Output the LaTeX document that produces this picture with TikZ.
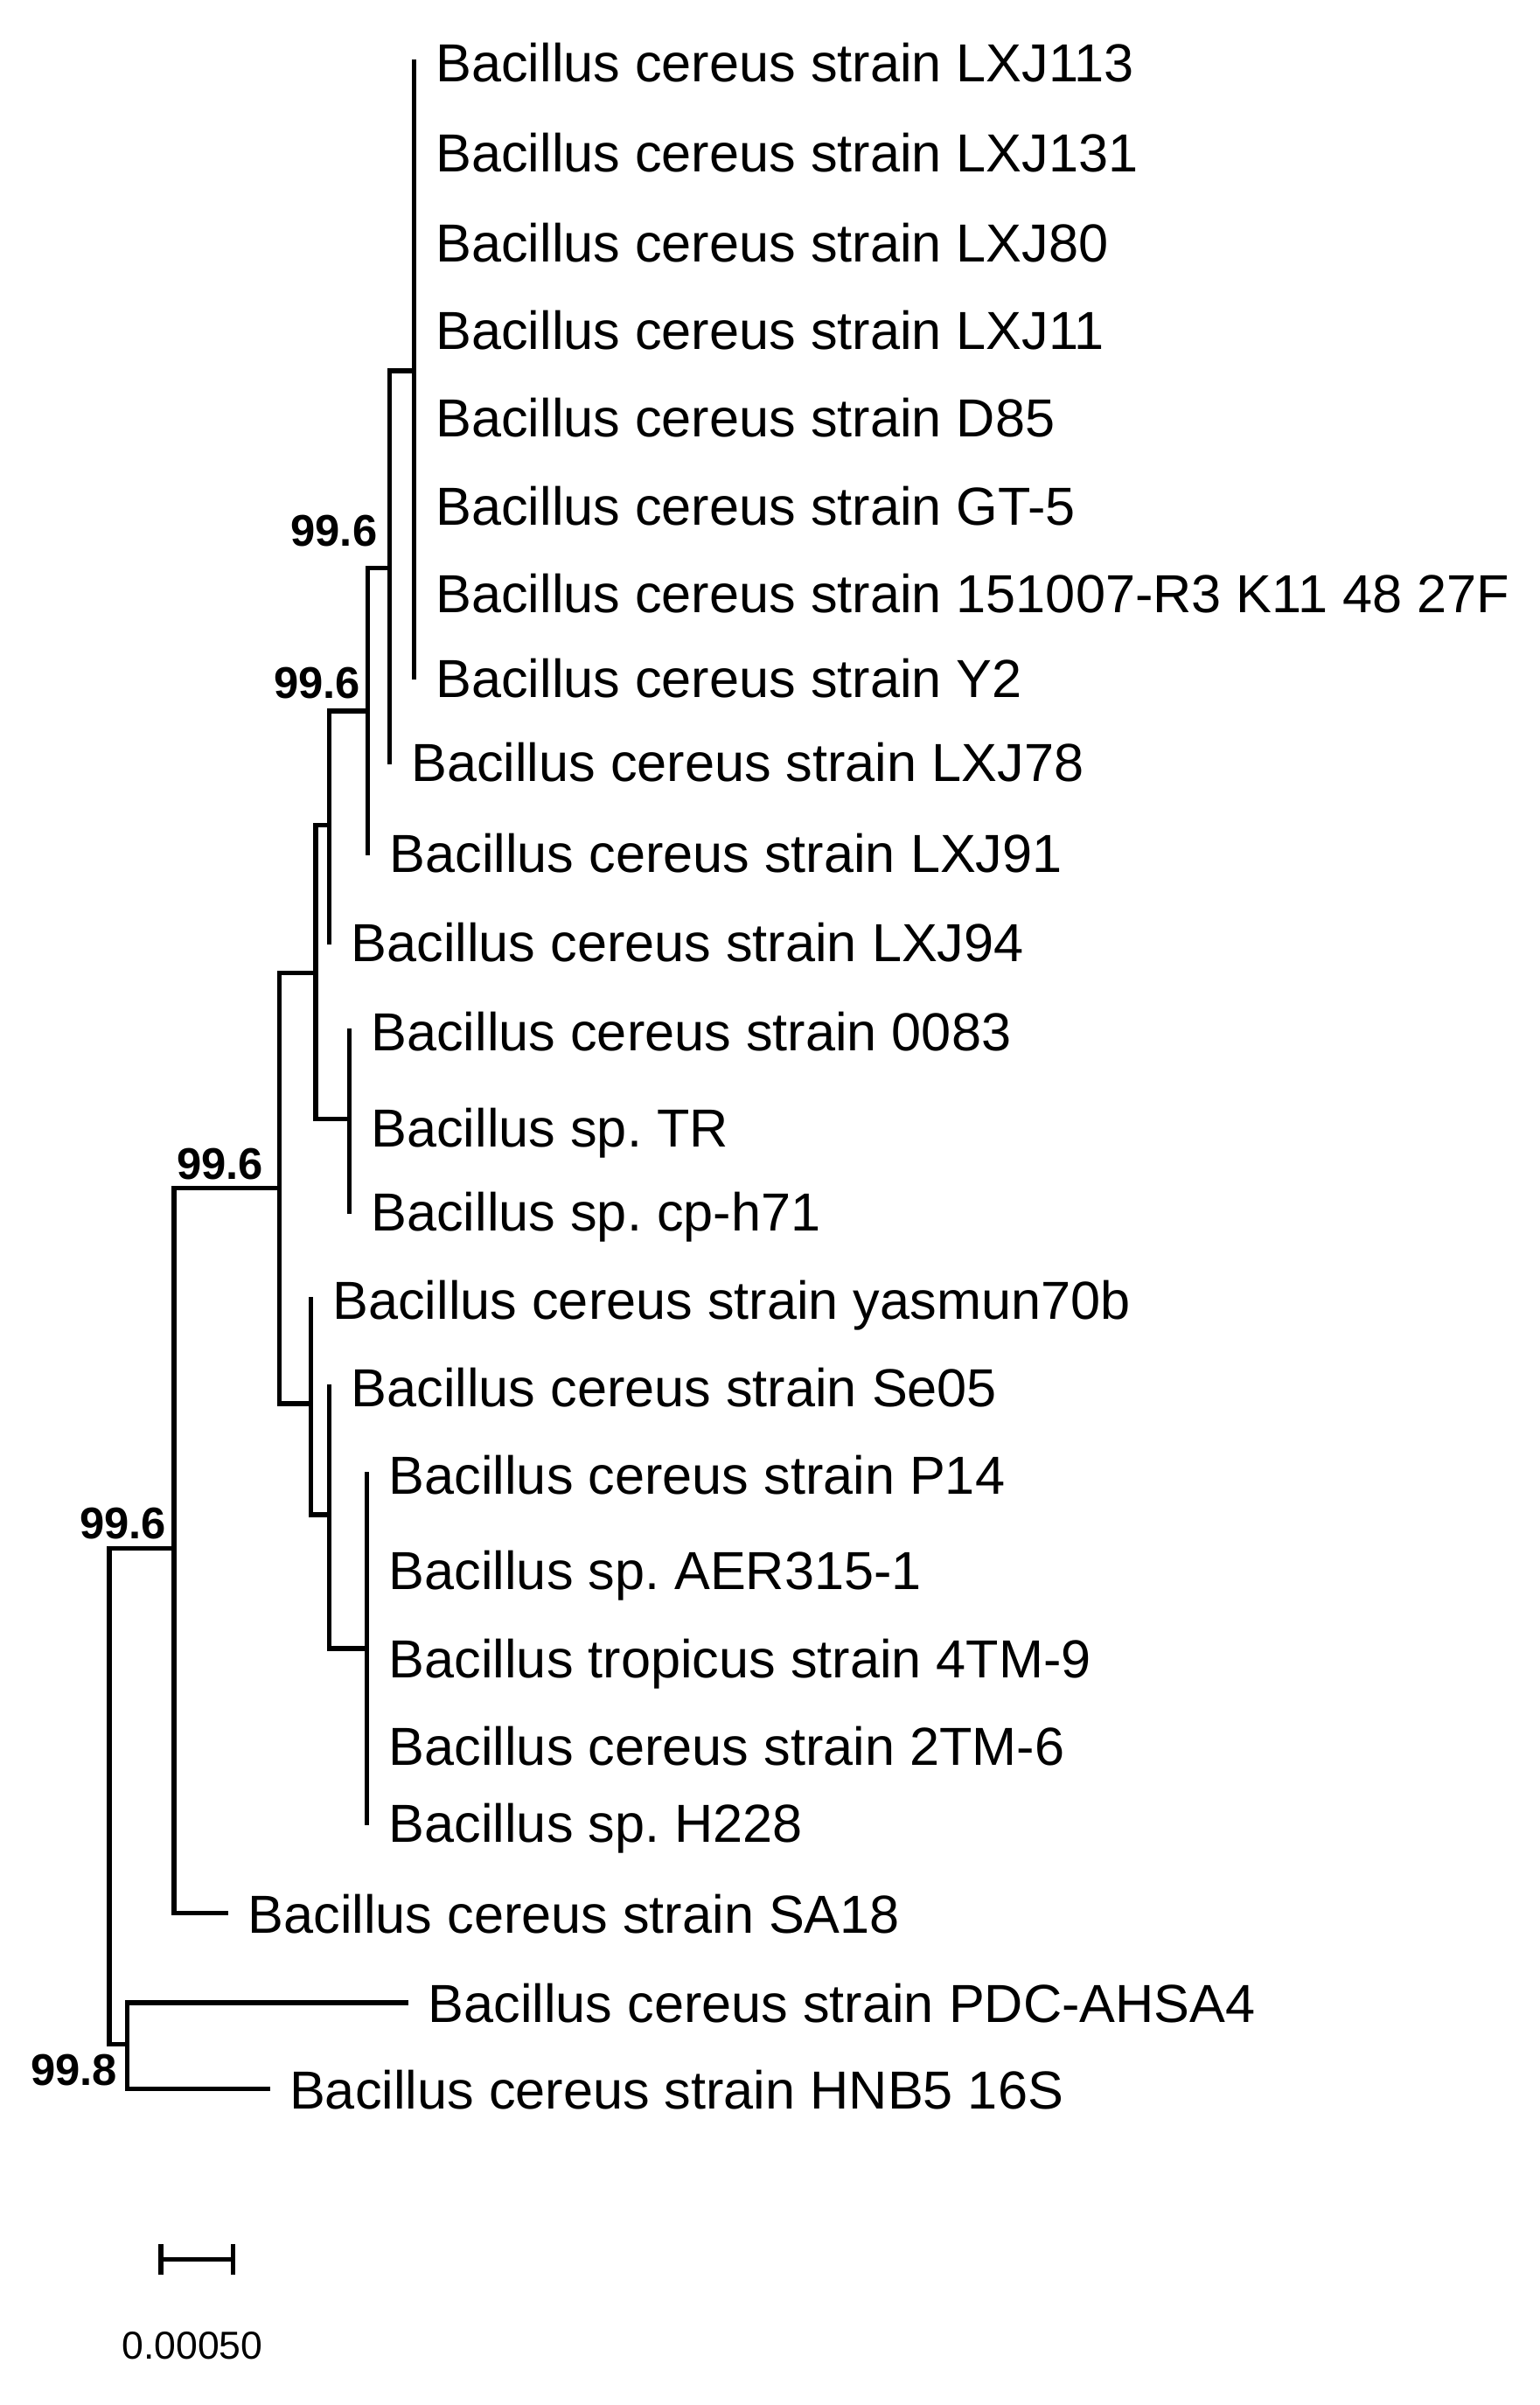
\documentclass[tikz,border=0pt]{standalone}
\usepackage{fontspec}
\setmainfont{Liberation Sans}
\usetikzlibrary{arrows.meta, positioning}
\frenchspacing

\begin{document}
\begin{tikzpicture}[
    x=0.5mm, y=-0.5mm,
    branch/.style={line width=4.4pt, line cap=rect},
    lab/.style={inner sep=0pt, anchor=west, text height=0.72em, text depth=0pt,
      yshift=-5.2mm, font=\fontsize{49.5}{54}\selectfont},
    boot/.style={inner sep=0pt, font=\fontsize{41}{45}\selectfont\bfseries},
    bar/.style={line width=4.4pt, {Bar[width=10mm]}-{Bar[width=10mm]}}
  ]
    \useasboundingbox (0,0) rectangle (1000,1562.5);

    % Internal nodes (x of the vertical, y where the parent joins)
    \coordinate (cA)  at (269,241);
    \coordinate (n1)  at (253,369);
    \coordinate (n2)  at (239,462);
    \coordinate (n3)  at (214,536);
    \coordinate (n4)  at (205,632);
    \coordinate (cB)  at (227,727);
    \coordinate (n5)  at (181.5,772);
    \coordinate (n6)  at (202,912);
    \coordinate (n7)  at (214,984);
    \coordinate (cC)  at (238.5,1071);
    \coordinate (n8)  at (113,1006);
    \coordinate (n9)  at (71,1006);
    \coordinate (n10) at (82.6,1328);

    % Tips: name / branch end x / y / label
    \foreach \n/\x/\y/\t in {
        t1/269/40/{Bacillus cereus strain LXJ113},
        t2/269/99/{Bacillus cereus strain LXJ131},
        t3/269/157/{Bacillus cereus strain LXJ80},
        t4/269/214/{Bacillus cereus strain LXJ11},
        t5/269/271/{Bacillus cereus strain D85},
        t6/269/328/{Bacillus cereus strain GT-5},
        t7/269/385/{Bacillus cereus strain 151007-R3 K11 48 27F},
        t8/269/440/{Bacillus cereus strain Y2},
        t9/253/495/{Bacillus cereus strain LXJ78},
        t10/239/554/{Bacillus cereus strain LXJ91},
        t11/214/612/{Bacillus cereus strain LXJ94},
        t12/227/670/{Bacillus cereus strain 0083},
        t13/227/732/{Bacillus sp. TR},
        t14/227/787/{Bacillus sp. cp-h71},
        t15/202/844/{Bacillus cereus strain yasmun70b},
        t16/214/901/{Bacillus cereus strain Se05},
        t17/238.5/958/{Bacillus cereus strain P14},
        t18/238.5/1020/{Bacillus sp. AER315-1},
        t19/238.5/1077/{Bacillus tropicus strain 4TM-9},
        t20/238.5/1134/{Bacillus cereus strain 2TM-6},
        t21/238.5/1184/{Bacillus sp. H228},
        t22/147/1243/{Bacillus cereus strain SA18},
        t23/264/1301/{Bacillus cereus strain PDC-AHSA4},
        t24/174/1357/{Bacillus cereus strain HNB5 16S}}{
      \coordinate (\n) at (\x,\y);
      \node[lab, right=7mm of \n] (\n-l) {\t};
    }

    % Branches
    \foreach \k in {1,...,8} \draw[branch] (cA) |- (t\k);
    \draw[branch] (n1) |- (cA);  \draw[branch] (n1) |- (t9);
    \draw[branch] (n2) |- (n1);  \draw[branch] (n2) |- (t10);
    \draw[branch] (n3) |- (n2);  \draw[branch] (n3) |- (t11);
    \draw[branch] (n4) |- (n3);  \draw[branch] (n4) |- (cB);
    \foreach \k in {12,13,14} \draw[branch] (cB) |- (t\k);
    \draw[branch] (n5) |- (n4);  \draw[branch] (n5) |- (n6);
    \draw[branch] (n6) |- (t15); \draw[branch] (n6) |- (n7);
    \draw[branch] (n7) |- (t16); \draw[branch] (n7) |- (cC);
    \foreach \k in {17,...,21} \draw[branch] (cC) |- (t\k);
    \draw[branch] (n8) |- (n5);  \draw[branch] (n8) |- (t22);
    \draw[branch] (n9) |- (n8);  \draw[branch] (n9) |- (n10);
    \draw[branch] (n10) |- (t23); \draw[branch] (n10) |- (t24);

    % Bootstrap values
    \node[boot] (b1) at (217,345)  {99.6};
    \node[boot] (b2) at (206,444)  {99.6};
    \node[boot] (b3) at (143,756)  {99.6};
    \node[boot] (b4) at (80,990)   {99.6};
    \node[boot] (b5) at (48,1345)  {99.8};

    % Scale bar
    \coordinate (sb1) at (103,1468);
    \coordinate (sb2) at (153,1468);
    \draw[bar] (sb1) -- (sb2);
    \node[inner sep=0pt, font=\fontsize{36}{40}\selectfont] (sbl) at (125,1524) {0.00050};
  \end{tikzpicture}
\end{document}
